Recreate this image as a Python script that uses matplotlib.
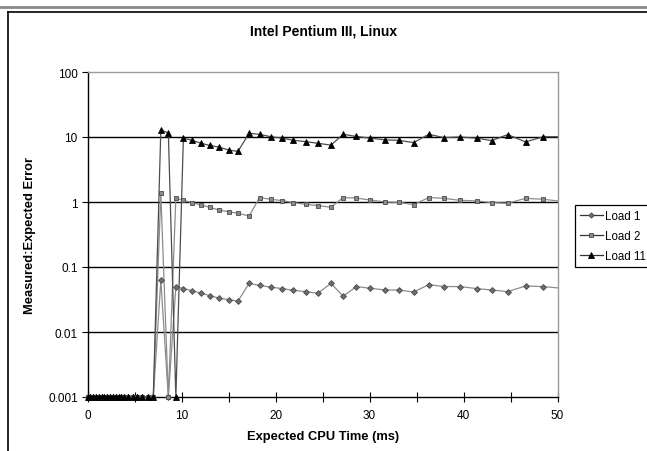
import matplotlib.pyplot as plt
from matplotlib.lines import Line2D
from matplotlib.ticker import FixedLocator, FixedFormatter, MultipleLocator

plt.rcParams["font.family"] = ["Liberation Sans", "DejaVu Sans"]

# expected CPU time (ms), shared by all three series
CPU_TIME = [0, 0.3, 0.6, 0.9, 1.2, 1.5, 1.8, 2.1, 2.4, 2.7,
            3.0, 3.3, 3.6, 3.9, 4.3, 4.8, 5.3, 5.8, 6.4, 7.0,
            7.8, 8.6, 9.4, 10.2, 11.1, 12.1, 13.0, 14.0, 15.0, 16.0,
            17.2, 18.3, 19.5, 20.7, 21.9, 23.2, 24.5, 25.9, 27.2, 28.6,
            30.1, 31.7, 33.1, 34.7, 36.3, 37.9, 39.6, 41.4, 43.0, 44.7,
            46.6, 48.5, 50.5]

LOAD_1 = [0.001, 0.001, 0.001, 0.001, 0.001, 0.001, 0.001, 0.001, 0.001, 0.001,
          0.001, 0.001, 0.001, 0.001, 0.001, 0.001, 0.001, 0.001, 0.001, 0.001,
          0.062, 0.001, 0.050, 0.0466, 0.0433, 0.0394, 0.0363, 0.0331, 0.0316, 0.0297,
          0.056, 0.052, 0.049, 0.0466, 0.0438, 0.0418, 0.0394, 0.056, 0.0355, 0.050,
          0.047, 0.0443, 0.0443, 0.0412, 0.0536, 0.050, 0.050, 0.0466, 0.0443, 0.0418,
          0.051, 0.050, 0.047]

LOAD_2 = [0.001, 0.001, 0.001, 0.001, 0.001, 0.001, 0.001, 0.001, 0.001, 0.001,
          0.001, 0.001, 0.001, 0.001, 0.001, 0.001, 0.001, 0.001, 0.001, 0.001,
          1.36, 0.001, 1.15, 1.06, 0.98, 0.90, 0.83, 0.75, 0.71, 0.67,
          0.61, 1.17, 1.10, 1.05, 0.98, 0.92, 0.88, 0.83, 1.17, 1.15,
          1.07, 1.00, 0.99, 0.91, 1.17, 1.14, 1.06, 1.04, 0.98, 0.955,
          1.14, 1.10, 1.02]

LOAD_11 = [0.001, 0.001, 0.001, 0.001, 0.001, 0.001, 0.001, 0.001, 0.001, 0.001,
           0.001, 0.001, 0.001, 0.001, 0.001, 0.001, 0.001, 0.001, 0.001, 0.001,
           12.9, 11.5, 0.001, 9.6, 8.9, 8.0, 7.4, 7.0, 6.3, 6.0,
           11.4, 11.0, 10.1, 9.6, 8.9, 8.5, 8.0, 7.5, 11.0, 10.2,
           9.6, 9.0, 8.9, 8.2, 11.0, 9.8, 10.0, 9.6, 8.8, 10.9,
           8.4, 10.1, 10.1]

Y_TICKS = [0.001, 0.01, 0.1, 1, 10, 100]
Y_LABELS = ["0.001", "0.01", "0.1", "1", "10", "100"]
X_MAX = 50

SERIES = [
    ("Load 1", LOAD_1, "D", 3.0, "#6e6e6e", "#4a4a4a", "#8c8c8c"),
    ("Load 2", LOAD_2, "s", 3.2, "#8a8a8a", "#4a4a4a", "#8c8c8c"),
    ("Load 11", LOAD_11, "^", 5.0, "black", "black", "#4d4d4d"),
]


def main():
    fig = plt.figure(figsize=(6.47, 4.52), dpi=100)
    ax = fig.add_axes([87.5 / 647, 1 - 398 / 452, 470 / 647, 325 / 452])

    handles = []
    for name, values, marker, size, face, edge, line_color in SERIES:
        ax.plot(CPU_TIME, values, color=line_color, lw=0.9, zorder=3)
        xs = [x for x in CPU_TIME if x <= X_MAX]
        ys = values[:len(xs)]
        ax.plot(xs, ys, ls="none", marker=marker, ms=size,
                mfc=face, mec=edge, mew=0.6, clip_on=False, zorder=4)
        handles.append(Line2D([], [], color="#333333", lw=0.9, marker=marker,
                              ms=size * 0.9, mfc=face, mec=edge, mew=0.6))

    ax.set_yscale("log")
    ax.set_ylim(Y_TICKS[0], Y_TICKS[-1])
    ax.set_xlim(0, X_MAX)
    ax.yaxis.set_major_locator(FixedLocator(Y_TICKS))
    ax.yaxis.set_major_formatter(FixedFormatter(Y_LABELS))
    ax.yaxis.set_minor_locator(FixedLocator([]))
    ax.xaxis.set_major_locator(MultipleLocator(10))
    ax.xaxis.set_minor_locator(MultipleLocator(5))

    for val in Y_TICKS[1:-1]:
        ax.axhline(val, color="black", lw=1.0, zorder=1)

    for side in ("top", "right"):
        ax.spines[side].set_color("#9a9a9a")
        ax.spines[side].set_linewidth(1.0)
    for side in ("left", "bottom"):
        ax.spines[side].set_color("black")
        ax.spines[side].set_linewidth(1.0)

    ax.tick_params(axis="y", which="major", direction="out", length=4,
                   width=0.8, labelsize=8.5, pad=3)
    ax.tick_params(axis="x", which="both", direction="inout", length=7,
                   width=0.8, labelsize=8.5, pad=5)

    fig.text(0.5, 1 - 32 / 452, "Intel Pentium III, Linux", ha="center",
             va="center", fontsize=10, fontweight="bold")
    fig.text(0.5, 1 - 437 / 452, "Expected CPU Time (ms)", ha="center",
             va="center", fontsize=9.3, fontweight="bold")
    fig.text(30 / 647, 1 - 235 / 452, "Measured:Expected Error", ha="center",
             va="center", rotation=90, fontsize=9.3, fontweight="bold")

    leg = fig.legend(handles, [s[0] for s in SERIES], loc="upper left",
                     bbox_to_anchor=(575 / 647, 1 - 206 / 452), fontsize=8.3,
                     frameon=True, fancybox=False, framealpha=1,
                     edgecolor="black", handlelength=2.0, handletextpad=0.2,
                     labelspacing=0.72, borderpad=0.4, borderaxespad=0)
    leg.get_frame().set_linewidth(0.9)

    # chart area frame, partly cut off by the image edge
    fig.add_artist(Line2D([0, 1], [1 - 7.5 / 452, 1 - 7.5 / 452],
                          color="#8a8a8a", lw=2.0))
    fig.add_artist(Line2D([8 / 647, 1], [1 - 12.5 / 452, 1 - 12.5 / 452],
                          color="black", lw=1.2))
    fig.add_artist(Line2D([8 / 647, 8 / 647], [0, 1 - 12.5 / 452],
                          color="black", lw=1.2))

    fig.savefig("out.png", dpi=100)


if __name__ == "__main__":
    main()
